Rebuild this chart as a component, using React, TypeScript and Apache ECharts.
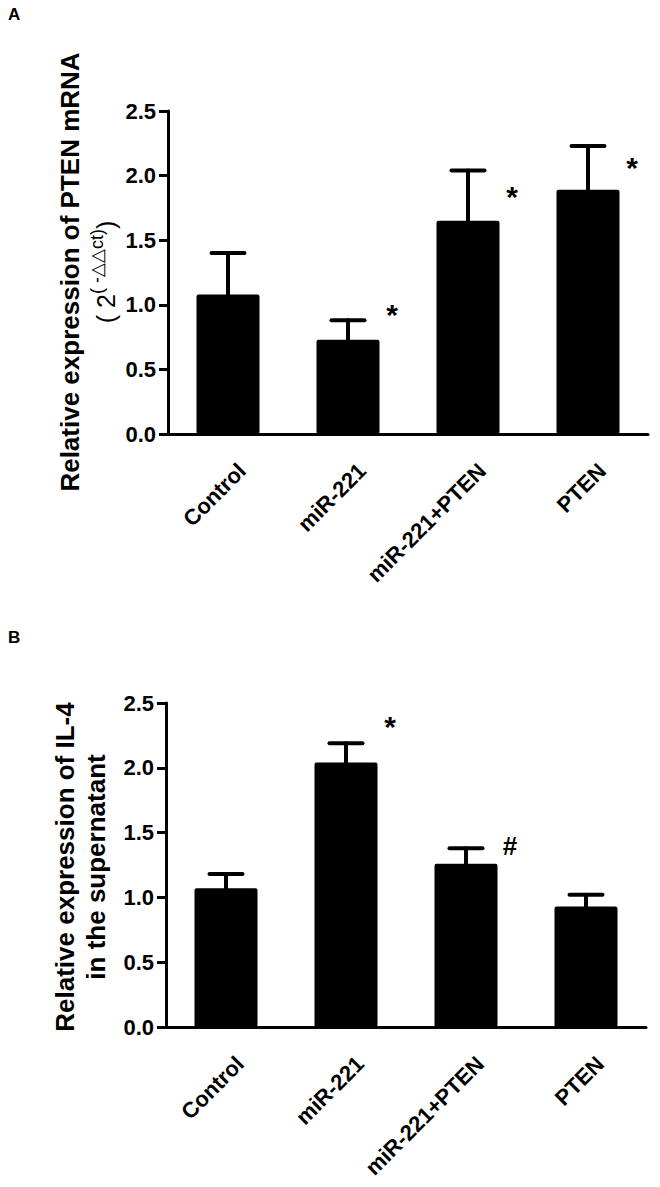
import React, { useEffect, useRef } from "react";
import * as echarts from "echarts";

const categories = ["Control", "miR-221", "miR-221+PTEN", "PTEN"];

// Panel A: PTEN mRNA
const meanA = [1.08, 0.73, 1.65, 1.89];
const upperA = [1.40, 0.88, 2.04, 2.23];
const sigA = ["", "*", "*", "*"];
const sigLevelA = [0, 0.98, 1.89, 2.12];

// Panel B: IL-4 in supernatant
const meanB = [1.07, 2.04, 1.26, 0.93];
const upperB = [1.18, 2.19, 1.38, 1.02];
const sigB = ["", "*", "#", ""];
const sigLevelB = [0, 2.37, 1.40, 0];

const yMin = 0;
const yMax = 2.5;
const yStep = 0.5;

const FONT = "'Liberation Sans', Arial, Helvetica, sans-serif";

export default function App() {
  const ref = useRef<HTMLDivElement>(null);

  useEffect(() => {
    document.body.style.margin = "0";
    if (!ref.current) return;
    const chart = echarts.init(ref.current, undefined, { renderer: "svg" });

    const makeX = (gridIndex: number) => ({
      type: "category",
      gridIndex,
      data: categories,
      boundaryGap: true,
      axisLine: { lineStyle: { color: "#000", width: 3 } },
      axisTick: { alignWithLabel: true, length: 9, lineStyle: { color: "#000", width: 3 } },
      axisLabel: {
        rotate: 45,
        margin: 19,
        color: "#000",
        fontFamily: FONT,
        fontWeight: "bold",
        fontSize: 22,
        lineHeight: 26,
        verticalAlign: "top",
        padding: [7, 0, 0, 0],
        interval: 0,
      },
    });
    const makeY = (gridIndex: number) => ({
      type: "value",
      gridIndex,
      min: yMin,
      max: yMax,
      interval: yStep,
      splitLine: { show: false },
      axisLine: { show: true, lineStyle: { color: "#000", width: 3 } },
      axisTick: { show: true, length: 9, lineStyle: { color: "#000", width: 3 } },
      axisLabel: {
        margin: 12,
        color: "#000",
        fontFamily: FONT,
        fontWeight: "bold",
        fontSize: 22,
        formatter: (v: number) => v.toFixed(1),
      },
    });

    const barSeries = (idx: number, data: number[]) => ({
      type: "bar",
      xAxisIndex: idx,
      yAxisIndex: idx,
      data,
      barWidth: 63,
      itemStyle: { color: "#000", borderRadius: 2 },
      z: 2,
    });

    const errSeries = (idx: number, mean: number[], upper: number[]) => ({
      type: "custom",
      xAxisIndex: idx,
      yAxisIndex: idx,
      clip: false,
      z: 3,
      data: mean.map((m, i) => [i, m, upper[i]]),
      renderItem: (params: any, api: any) => {
        const top = api.coord([api.value(0), api.value(1)]);
        const up = api.coord([api.value(0), api.value(2)]);
        const half = 16.5;
        const st = { stroke: "#000", lineWidth: 4, lineCap: "round" };
        return {
          type: "group",
          children: [
            { type: "line", shape: { x1: up[0], y1: top[1], x2: up[0], y2: up[1] }, style: st },
            { type: "line", shape: { x1: up[0] - half, y1: up[1], x2: up[0] + half, y2: up[1] }, style: st },
          ],
        };
      },
    });

    const sigSeries = (idx: number, marks: string[], levels: number[]) => ({
      type: "custom",
      xAxisIndex: idx,
      yAxisIndex: idx,
      clip: false,
      z: 4,
      data: marks.map((m, i) => [i, levels[i], m]).filter((d) => d[2] !== ""),
      renderItem: (params: any, api: any) => {
        const p = api.coord([api.value(0), api.value(1)]);
        const mark = marks[api.value(0)];
        const isStar = mark === "*";
        return {
          type: "text",
          x: p[0] + 44,
          y: p[1] + (isStar ? 7 : 0),
          style: {
            text: mark,
            fill: "#000",
            fontFamily: FONT,
            fontWeight: "bold",
            fontSize: isStar ? 30 : 26,
            align: "center",
            verticalAlign: "middle",
          },
        };
      },
    });

    const option = {
      animation: false,
      backgroundColor: "#fff",
      grid: [
        { left: 168, top: 111, width: 480, height: 323 },
        { left: 166, top: 703, width: 480, height: 324 },
      ],
      xAxis: [makeX(0), makeX(1)],
      yAxis: [makeY(0), makeY(1)],
      series: [
        barSeries(0, meanA),
        errSeries(0, meanA, upperA),
        sigSeries(0, sigA, sigLevelA),
        barSeries(1, meanB),
        errSeries(1, meanB, upperB),
        sigSeries(1, sigB, sigLevelB),
      ],
      graphic: [
        {
          type: "text",
          left: 8,
          top: 6,
          style: { text: "A", fontFamily: FONT, fontWeight: "bold", fontSize: 17, fill: "#000" },
        },
        {
          type: "text",
          left: 8,
          top: 629,
          style: { text: "B", fontFamily: FONT, fontWeight: "bold", fontSize: 17, fill: "#000" },
        },
        {
          type: "text",
          x: 70,
          y: 272,
          rotation: Math.PI / 2,
          style: {
            text: "Relative expression of PTEN mRNA",
            fontFamily: FONT,
            fontWeight: "bold",
            fontSize: 26,
            fill: "#000",
            align: "center",
            verticalAlign: "middle",
          },
        },
        {
          type: "text",
          x: 103,
          y: 272,
          rotation: Math.PI / 2,
          style: {
            text: "{n|( 2}{s|( -△△ct)}{n|)}",
            fill: "#000",
            align: "center",
            verticalAlign: "middle",
            rich: {
              n: { fontFamily: FONT, fontSize: 25, fill: "#000", lineHeight: 30, verticalAlign: "bottom" },
              s: { fontFamily: FONT, fontSize: 18, fill: "#000", lineHeight: 30, verticalAlign: "top" },
            },
          },
        },
        {
          type: "text",
          x: 65,
          y: 867,
          rotation: Math.PI / 2,
          style: {
            text: "Relative expression of IL-4",
            fontFamily: FONT,
            fontWeight: "bold",
            fontSize: 26,
            fill: "#000",
            align: "center",
            verticalAlign: "middle",
          },
        },
        {
          type: "text",
          x: 96,
          y: 867,
          rotation: Math.PI / 2,
          style: {
            text: "in the supernatant",
            fontFamily: FONT,
            fontWeight: "bold",
            fontSize: 26,
            fill: "#000",
            align: "center",
            verticalAlign: "middle",
          },
        },
      ],
    };

    chart.setOption(option as any);
    return () => chart.dispose();
  }, []);

  return <div ref={ref} style={{ width: 660, height: 1187 }} />;
}
